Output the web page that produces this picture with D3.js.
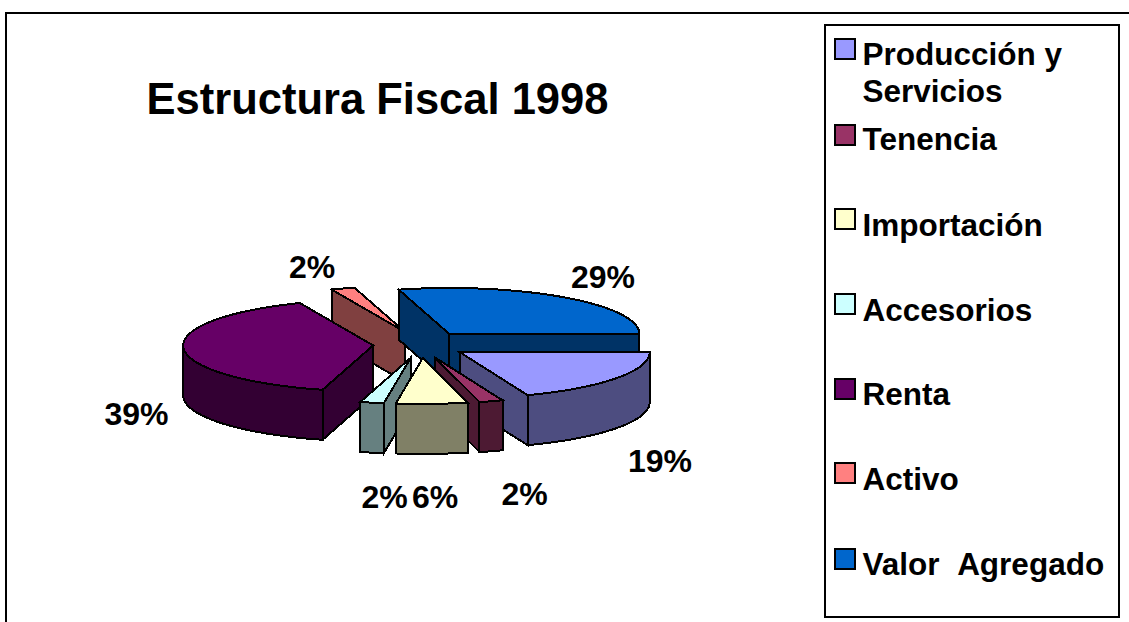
<!DOCTYPE html>
<html>
<head>
<meta charset="utf-8">
<script src="https://cdnjs.cloudflare.com/ajax/libs/d3/7.8.5/d3.min.js"></script>
<style>
html, body { margin: 0; padding: 0; background: #fff; overflow: hidden; }
text { font-family: "Liberation Sans", Arial, sans-serif; font-weight: bold; fill: #000; }
</style>
</head>
<body>
<div id="container"></div>
<script>
var svgWidth = 1129;
var svgHeight = 622;

// data
var categories = ['Producción y Servicios', 'Tenencia', 'Importación', 'Accesorios', 'Renta', 'Activo', 'Valor Agregado'];
var values = [19, 2, 6, 2, 39, 2, 29];
var topColors = ['#9999ff', '#993366', '#ffffcc', '#ccffff', '#660066', '#ff8080', '#0066cc'];
var sideColors = ['#4d4d80', '#4d1a33', '#808066', '#668080', '#330033', '#804040', '#003366'];
var title = 'Estructura Fiscal 1998';

// pie geometry
var centerX = 420.6, centerY = 344.6;
var radiusX = 190, radiusY = 46;
var explodeX = 0.25, explodeY = 0.29;
var depth = 50;

var svg = d3.select('#container').append('svg')
    .attr('width', svgWidth)
    .attr('height', svgHeight)
    .style('display', 'block');

// outer chart frame, runs off the page on the right and bottom
svg.append('rect')
    .attr('x', 6).attr('y', 13)
    .attr('width', svgWidth + 20).attr('height', svgHeight + 20)
    .style('fill', 'none').style('stroke', '#000').style('stroke-width', 2);

svg.append('text')
    .attr('x', 377.5).attr('y', 114)
    .attr('text-anchor', 'middle')
    .style('font-size', '43.5px')
    .text(title);

// unit circle -> pixels
var xScale = d3.scaleLinear().domain([-1, 1]).range([centerX - radiusX, centerX + radiusX]);
var yScale = d3.scaleLinear().domain([-1, 1]).range([centerY - radiusY, centerY + radiusY]);

// pie starts at east and goes clockwise
var pie = d3.pie().sort(null).startAngle(Math.PI / 2).endAngle(Math.PI * 2.5);
var line = d3.line().x(function (p) { return xScale(p[0]); }).y(function (p) { return yScale(p[1]); });
var lineDown = d3.line().x(function (p) { return xScale(p[0]); }).y(function (p) { return yScale(p[1]) + depth; });

function unitPoint(a, off) {
    // d3 pie angles are 0 = north, clockwise
    return [off[0] + Math.sin(a), off[1] - Math.cos(a)];
}

function arcPoints(a0, a1, off) {
    var n = Math.max(2, Math.ceil((a1 - a0) / 0.03));
    return d3.range(n + 1).map(function (i) { return unitPoint(a0 + (a1 - a0) * i / n, off); });
}

var slices = pie(values).map(function (d, i) {
    var mid = (d.startAngle + d.endAngle) / 2;
    return {
        start: d.startAngle,
        end: d.endAngle,
        mid: mid,
        off: [explodeX * Math.sin(mid), -explodeY * Math.cos(mid)],
        top: topColors[i],
        side: sideColors[i],
        label: d3.format('.0f')(d.data) + '%'
    };
});

function wallPath(pts) {
    return line(pts) + 'L' + lineDown(pts.slice().reverse()).slice(1) + 'Z';
}

function drawFace(g, d, fill) {
    g.append('path').attr('d', d)
        .style('fill', fill)
        .style('stroke', '#000')
        .style('stroke-width', 2)
        .style('stroke-linejoin', 'miter')
        .style('shape-rendering', 'crispEdges');
}

// back slices first
var order = slices.slice().sort(function (a, b) {
    return -Math.cos(a.mid) - (-Math.cos(b.mid));
});

var pieGroup = svg.append('g');

order.forEach(function (s) {
    var g = pieGroup.append('g');
    var apex = s.off;

    // cut faces, only the ones turned to the viewer
    if (Math.sin(s.start) < 0) {
        drawFace(g, wallPath([apex, unitPoint(s.start, s.off)]), s.side);
    }
    if (Math.sin(s.end) > 0) {
        drawFace(g, wallPath([apex, unitPoint(s.end, s.off)]), s.side);
    }

    // outer wall, front half only
    var frontStart = Math.max(s.start, Math.PI / 2);
    var frontEnd = Math.min(s.end, Math.PI * 1.5);
    if (frontEnd > frontStart) {
        drawFace(g, wallPath(arcPoints(frontStart, frontEnd, s.off)), s.side);
    }

    // top
    var topPts = [apex].concat(arcPoints(s.start, s.end, s.off));
    drawFace(g, line(topPts) + 'Z', s.top);
});

// percent labels
var labelPos = [[660, 472], [524.5, 505], [435, 508], [384.5, 508], [136.5, 425], [312, 278], [603, 288]];
svg.append('g').selectAll('text').data(slices).enter().append('text')
    .attr('x', function (d, i) { return labelPos[i][0]; })
    .attr('y', function (d, i) { return labelPos[i][1]; })
    .attr('text-anchor', 'middle')
    .style('font-size', '32px')
    .text(function (d) { return d.label; });

// legend
var legendLines = [['Producción y', 'Servicios'], ['Tenencia'], ['Importación'], ['Accesorios'], ['Renta'], ['Activo'], ['Valor Agregado']];
var legendSwatchY = [39, 125, 209, 294, 379, 463, 549];
var legendTextY = [65, 150, 236, 321, 405, 490, 575];

svg.append('rect')
    .attr('x', 825).attr('y', 25)
    .attr('width', 294).attr('height', 592)
    .style('fill', '#fff').style('stroke', '#000').style('stroke-width', 2);

var legend = svg.append('g').selectAll('g').data(categories).enter().append('g');

legend.append('rect')
    .attr('x', 835)
    .attr('y', function (d, i) { return legendSwatchY[i]; })
    .attr('width', 20).attr('height', 20)
    .style('fill', function (d, i) { return topColors[i]; })
    .style('stroke', '#000').style('stroke-width', 2);

legend.each(function (d, i) {
    var g = d3.select(this);
    legendLines[i].forEach(function (t, j) {
        g.append('text')
            .attr('x', 862.5).attr('y', legendTextY[i] + j * 37)
            .style('font-size', '31.5px')
            .style('word-spacing', i == 6 ? '10px' : '0')
            .text(t);
    });
});
</script>
</body>
</html>
